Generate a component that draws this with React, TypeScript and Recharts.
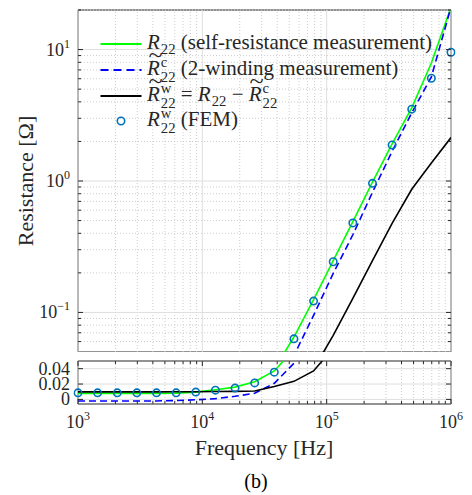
import React from "react";
import { LineChart, Line, XAxis, YAxis, ReferenceLine, ReferenceArea } from "recharts";

// frequency grid [Hz]
const freqs = [
  1000, 1438, 2069, 2976, 4281, 6158, 8859, 12743, 18330, 26367, 37927, 54556,
  78476, 112884, 162378, 233572, 335982, 483293, 695193, 1000000,
];
// R22 (self-resistance measurement) [Ohm]
const r22Self = [
  0.0078, 0.0078, 0.0078, 0.0078, 0.0079, 0.0081, 0.0095, 0.0125, 0.016, 0.023, 0.037, 0.065,
  0.125, 0.248, 0.49, 0.98, 1.92, 3.6, 7.9, 21,
];
// R~c22 (2-winding measurement)
const r22Coupled = [
  -0.002, -0.002, -0.002, -0.002, -0.002, -0.0015, -0.0005, 0.001, 0.004, 0.008, 0.021, 0.047,
  0.095, 0.198, 0.39, 0.82, 1.68, 3.3, 6.2, 21,
];
// R~w22 = R22 - R~c22
const r22Winding = [
  0.0098, 0.0098, 0.0098, 0.0098, 0.0098, 0.0099, 0.01, 0.0103, 0.0105, 0.011, 0.0168, 0.0235,
  0.037, 0.067, 0.128, 0.248, 0.476, 0.865, 1.37, 2.14,
];
// Rw22 (FEM)
const r22Fem = [
  0.0085, 0.0085, 0.0085, 0.0085, 0.0085, 0.0085, 0.0095, 0.012, 0.0147, 0.0215, 0.0355, 0.063,
  0.122, 0.243, 0.48, 0.96, 1.88, 3.52, 6.05, 9.55,
];

const xMajor = [1e3, 1e4, 1e5, 1e6];
const xMinor = [
  2e3, 3e3, 4e3, 5e3, 6e3, 7e3, 8e3, 9e3,
  2e4, 3e4, 4e4, 5e4, 6e4, 7e4, 8e4, 9e4,
  2e5, 3e5, 4e5, 5e5, 6e5, 7e5, 8e5, 9e5,
];
const yMajorTop = [0.1, 1, 10];
const yMinorTop = [
  0.06, 0.07, 0.08, 0.09, 0.2, 0.3, 0.4, 0.5, 0.6, 0.7, 0.8, 0.9,
  2, 3, 4, 5, 6, 7, 8, 9, 20,
];
const yTicksBottom = [0, 0.02, 0.04];

const data = freqs.map((f, i) => ({
  f,
  self: r22Self[i],
  coupled: r22Coupled[i],
  coupledLog: r22Coupled[i] > 0 ? r22Coupled[i] : null,
  winding: r22Winding[i],
  fem: r22Fem[i],
}));

const FONT = '"Liberation Serif", "Times New Roman", serif';
const INK = "#262626";
const GREEN = "#00ff00";
const BLUE = "#0000ff";
const FEM_BLUE = "#0072bd";
const MAJOR_GRID = "#dedede";
const MINOR_GRID = "#cdcdcd";
const PLOT_L = 78;
const PLOT_R = 451;
const TOP_T = 10;
const BOT_T = 5;

const isMajor = (v: number) => {
  const e = Math.round(Math.log10(v));
  return Math.abs(v / Math.pow(10, e) - 1) < 1e-6;
};
const expText = (v: number) => {
  const e = Math.round(Math.log10(v));
  return e < 0 ? "\u2212" + -e : String(e);
};

function TopYTick(props: any) {
  const { x, y, payload } = props;
  const major = isMajor(payload.value);
  const len = major ? 5 : 3;
  return (
    <g>
      <line x1={PLOT_L} x2={PLOT_L + len} y1={y} y2={y} stroke={INK} />
      <line x1={PLOT_R - len} x2={PLOT_R} y1={y} y2={y} stroke={INK} />
      {major && (
        <text x={x} y={y + 6} textAnchor="end" fontFamily={FONT} fontSize={18} fill={INK}>
          10
          <tspan dy={-8} fontSize={12}>
            {expText(payload.value)}
          </tspan>
        </text>
      )}
    </g>
  );
}

function TopXTick(props: any) {
  const { x, y, payload } = props;
  const len = isMajor(payload.value) ? 5 : 3;
  return (
    <g>
      <line x1={x} x2={x} y1={y} y2={y - len} stroke={INK} />
      <line x1={x} x2={x} y1={TOP_T} y2={TOP_T + len} stroke={INK} />
    </g>
  );
}

function BottomYTick(props: any) {
  const { x, y, payload } = props;
  return (
    <g>
      <line x1={PLOT_L} x2={PLOT_L + 5} y1={y} y2={y} stroke={INK} />
      <line x1={PLOT_R - 5} x2={PLOT_R} y1={y} y2={y} stroke={INK} />
      <text x={x} y={y + 6} textAnchor="end" fontFamily={FONT} fontSize={18} fill={INK}>
        {payload.value}
      </text>
    </g>
  );
}

function BottomXTick(props: any) {
  const { x, y, payload } = props;
  const major = isMajor(payload.value);
  const len = major ? 5 : 3;
  return (
    <g>
      <line x1={x} x2={x} y1={y} y2={y - len} stroke={INK} />
      <line x1={x} x2={x} y1={BOT_T} y2={BOT_T + len} stroke={INK} />
      {major && (
        <text x={x} y={y + 24} textAnchor="middle" fontFamily={FONT} fontSize={18} fill={INK}>
          10
          <tspan dy={-8} fontSize={12}>
            {expText(payload.value)}
          </tspan>
        </text>
      )}
    </g>
  );
}

function Sym({ tilde, sup }: { tilde?: boolean; sup?: string }) {
  return (
    <span style={{ whiteSpace: "nowrap" }}>
      <span style={{ fontStyle: "italic", position: "relative", display: "inline-block" }}>
        R
        {tilde && (
          <span
            style={{
              position: "absolute",
              left: "0.12em",
              top: "-0.6em",
              fontStyle: "normal",
              transform: "scaleX(1.25)",
            }}
          >
            ~
          </span>
        )}
      </span>
      <span
        style={{
          display: "inline-block",
          verticalAlign: sup ? "-0.5em" : "-0.35em",
          fontSize: "0.7em",
          lineHeight: 1.05,
          marginLeft: 1,
        }}
      >
        {sup && <span style={{ display: "block" }}>{sup}</span>}
        <span style={{ display: "block" }}>22</span>
      </span>
    </span>
  );
}

const legendItems = [
  { key: "self", kind: "line", color: GREEN, dash: "", label: <><Sym /> (self-resistance measurement)</> },
  { key: "coupled", kind: "line", color: BLUE, dash: "8 5", label: <><Sym tilde sup="c" /> (2-winding measurement)</> },
  { key: "winding", kind: "line", color: "#000", dash: "", label: <><Sym tilde sup="w" /> = <Sym /> {"\u2212"} <Sym tilde sup="c" /></> },
  { key: "fem", kind: "marker", color: FEM_BLUE, dash: "", label: <><Sym sup="w" /> (FEM)</> },
];
const legendRowY = [44, 70, 96, 121];

function Legend() {
  return (
    <>
      {legendItems.map((it, i) => (
        <div
          key={it.key}
          style={{
            position: "absolute",
            left: 100,
            top: legendRowY[i] - 13,
            height: 26,
            display: "flex",
            alignItems: "center",
            fontFamily: FONT,
            fontSize: 21,
            color: INK,
            whiteSpace: "nowrap",
          }}
        >
          <svg width={42} height={26} style={{ marginRight: 5 }}>
            {it.kind === "line" ? (
              <line x1={0.5} x2={41.5} y1={13} y2={13} stroke={it.color} strokeWidth={1.8} strokeDasharray={it.dash || undefined} />
            ) : (
              <circle cx={21} cy={13} r={3.7} fill="none" stroke={it.color} strokeWidth={1.6} />
            )}
          </svg>
          <span>{it.label}</span>
        </div>
      ))}
    </>
  );
}

const xTicks = [...xMajor, ...xMinor];

export default function App() {
  return (
    <div style={{ position: "absolute", left: 0, top: 0, width: 472, height: 495, background: "#fff", fontFamily: FONT }}>
      <div style={{ position: "absolute", left: 0, top: 0 }}>
        <LineChart width={472} height={352} data={data} margin={{ top: TOP_T, right: 21, bottom: 0, left: 0 }}>
          {xMinor.map((v) => (
            <ReferenceLine key={"xm" + v} x={v} stroke={MINOR_GRID} strokeDasharray="1 2" />
          ))}
          {yMinorTop.map((v) => (
            <ReferenceLine key={"ym" + v} y={v} stroke={MINOR_GRID} strokeDasharray="1 2" />
          ))}
          {xMajor.map((v) => (
            <ReferenceLine key={"xM" + v} x={v} stroke={MAJOR_GRID} />
          ))}
          {yMajorTop.map((v) => (
            <ReferenceLine key={"yM" + v} y={v} stroke={MAJOR_GRID} />
          ))}
          <XAxis
            type="number"
            dataKey="f"
            scale="log"
            domain={[1000, 1000000]}
            allowDataOverflow
            ticks={xTicks}
            interval={0}
            height={0}
            tickSize={0}
            tickMargin={0}
            axisLine={false}
            tickLine={false}
            tick={<TopXTick />}
          />
          <YAxis
            type="number"
            scale="log"
            domain={[0.05, 20]}
            allowDataOverflow
            ticks={[...yMajorTop, ...yMinorTop]}
            interval={0}
            width={78}
            tickSize={0}
            tickMargin={8}
            axisLine={false}
            tickLine={false}
            tick={<TopYTick />}
          />
          <ReferenceArea x1={1000} x2={1000000} y1={0.05} y2={20} fill="none" stroke={INK} strokeWidth={1} />
          <Line type="linear" dataKey="self" stroke={GREEN} strokeWidth={1.6} dot={false} activeDot={false} isAnimationActive={false} />
          <Line type="linear" dataKey="coupledLog" stroke={BLUE} strokeWidth={1.6} strokeDasharray="7 4" dot={false} activeDot={false} isAnimationActive={false} />
          <Line type="linear" dataKey="winding" stroke="#000" strokeWidth={1.6} dot={false} activeDot={false} isAnimationActive={false} />
          <Line
            type="linear"
            dataKey="fem"
            stroke="none"
            dot={{ r: 3.7, stroke: FEM_BLUE, strokeWidth: 1.6, fill: "none", clipDot: false }}
            activeDot={false}
            isAnimationActive={false}
          />
        </LineChart>
      </div>

      <div style={{ position: "absolute", left: 0, top: 356 }}>
        <LineChart width={472} height={78} data={data} margin={{ top: BOT_T, right: 21, bottom: 0, left: 0 }}>
          {xMinor.map((v) => (
            <ReferenceLine key={"bxm" + v} x={v} stroke={MINOR_GRID} strokeDasharray="1 2" />
          ))}
          {xMajor.map((v) => (
            <ReferenceLine key={"bxM" + v} x={v} stroke={MAJOR_GRID} />
          ))}
          {yTicksBottom.map((v) => (
            <ReferenceLine key={"by" + v} y={v} stroke={MAJOR_GRID} />
          ))}
          <XAxis
            type="number"
            dataKey="f"
            scale="log"
            domain={[1000, 1000000]}
            allowDataOverflow
            ticks={xTicks}
            interval={0}
            height={30}
            tickSize={0}
            tickMargin={0}
            axisLine={false}
            tickLine={false}
            tick={<BottomXTick />}
          />
          <YAxis
            type="number"
            domain={[-0.006, 0.05]}
            allowDataOverflow
            ticks={yTicksBottom}
            interval={0}
            width={78}
            tickSize={0}
            tickMargin={8}
            axisLine={false}
            tickLine={false}
            tick={<BottomYTick />}
          />
          <ReferenceArea x1={1000} x2={1000000} y1={-0.006} y2={0.05} fill="none" stroke={INK} strokeWidth={1} />
          <Line type="linear" dataKey="self" stroke={GREEN} strokeWidth={1.6} dot={false} activeDot={false} isAnimationActive={false} />
          <Line type="linear" dataKey="coupled" stroke={BLUE} strokeWidth={1.6} strokeDasharray="7 4" dot={false} activeDot={false} isAnimationActive={false} />
          <Line type="linear" dataKey="winding" stroke="#000" strokeWidth={1.6} dot={false} activeDot={false} isAnimationActive={false} />
          <Line
            type="linear"
            dataKey="fem"
            stroke="none"
            dot={{ r: 3.7, stroke: FEM_BLUE, strokeWidth: 1.6, fill: "none", clipDot: false }}
            activeDot={false}
            isAnimationActive={false}
          />
        </LineChart>
      </div>

      <Legend />

      <div
        style={{
          position: "absolute",
          left: 26,
          top: 181,
          transform: "translate(-50%, -50%) rotate(-90deg)",
          fontSize: 22,
          lineHeight: "22px",
          color: INK,
          whiteSpace: "nowrap",
        }}
      >
        Resistance [Ω]
      </div>
      <div
        style={{
          position: "absolute",
          left: 164,
          width: 200,
          top: 437,
          textAlign: "center",
          fontSize: 22,
          lineHeight: "22px",
          color: INK,
          whiteSpace: "nowrap",
        }}
      >
        Frequency [Hz]
      </div>
      <div
        style={{
          position: "absolute",
          left: 206,
          width: 100,
          top: 471,
          textAlign: "center",
          fontSize: 20,
          lineHeight: "20px",
          color: "#000",
        }}
      >
        (b)
      </div>
    </div>
  );
}
